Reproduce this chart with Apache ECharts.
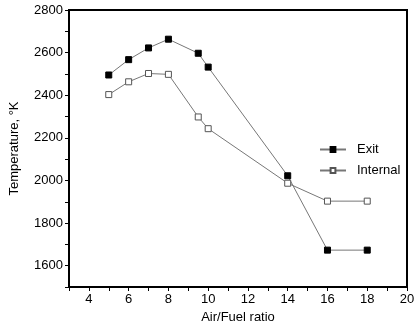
<!DOCTYPE html>
<html>
<head>
<meta charset="utf-8">
<script src="https://cdn.jsdelivr.net/npm/echarts@6/dist/echarts.min.js"></script>
<style>
  html, body { margin: 0; padding: 0; background: #fff; }
  #main { width: 418px; height: 330px; }
</style>
</head>
<body>
<div id="main"></div>
<script>
// air/fuel ratio values
var ratio = [5, 6, 7, 8, 9.5, 10, 14, 16, 18];
var exitTemp = [2495, 2567, 2622, 2663, 2597, 2532, 2022, 1673, 1673];
var internalTemp = [2403, 2463, 2502, 2498, 2298, 2243, 1987, 1903, 1903];

function pairs(xs, ys) {
    var out = [];
    for (let i = 0; i < xs.length; i++) {
        out.push([xs[i], ys[i]]);
    }
    return out;
}

var myChart = echarts.init(document.getElementById('main'));
var font = 'Liberation Sans, Arial, sans-serif';

var option = {
    animation: false,
    grid: {
        left: 66, right: 11, top: 10, bottom: 43,
        show: true,
        borderColor: '#000',
        borderWidth: 2
    },
    legend: {
        orient: 'vertical',
        left: 314,
        top: 138,
        itemWidth: 26,
        itemHeight: 6,
        itemGap: 8,
        textStyle: { fontFamily: font, fontSize: 13, color: '#000', padding: [0, 0, 0, 6] },
        data: ['Exit', 'Internal']
    },
    xAxis: {
        type: 'value',
        min: 3,
        max: 20,
        interval: 1,
        name: 'Air/Fuel ratio',
        nameLocation: 'middle',
        nameGap: 24,
        nameTextStyle: { fontFamily: font, fontSize: 13, color: '#000' },
        axisLine: { lineStyle: { color: '#000', width: 2 } },
        axisTick: { length: 4, lineStyle: { color: '#000' } },
        axisLabel: {
            fontFamily: font, fontSize: 13, color: '#000', margin: 6,
            formatter: function (v) { return v % 2 === 0 ? String(v) : ''; }
        },
        splitLine: { show: false }
    },
    yAxis: {
        type: 'value',
        min: 1500,
        max: 2800,
        interval: 100,
        name: 'Temperature, °K',
        nameLocation: 'middle',
        nameGap: 48,
        nameTextStyle: { fontFamily: font, fontSize: 13, color: '#000' },
        axisLine: { show: true, lineStyle: { color: '#000', width: 2 } },
        axisTick: { show: true, length: 4, lineStyle: { color: '#000' } },
        axisLabel: {
            fontFamily: font, fontSize: 13, color: '#000', margin: 6,
            formatter: function (v) { return v % 200 === 0 ? String(v) : ''; }
        },
        splitLine: { show: false }
    },
    series: [
        {
            name: 'Exit',
            type: 'line',
            data: pairs(ratio, exitTemp),
            symbol: 'rect',
            symbolSize: 6,
            itemStyle: { color: '#000', borderColor: '#000', borderWidth: 1 },
            lineStyle: { color: '#777', width: 1 }
        },
        {
            name: 'Internal',
            type: 'line',
            data: pairs(ratio, internalTemp),
            symbol: 'rect',
            symbolSize: 6,
            itemStyle: { color: '#fff', borderColor: '#555', borderWidth: 1 },
            lineStyle: { color: '#777', width: 1 }
        }
    ]
};

option && myChart.setOption(option);
</script>
</body>
</html>
